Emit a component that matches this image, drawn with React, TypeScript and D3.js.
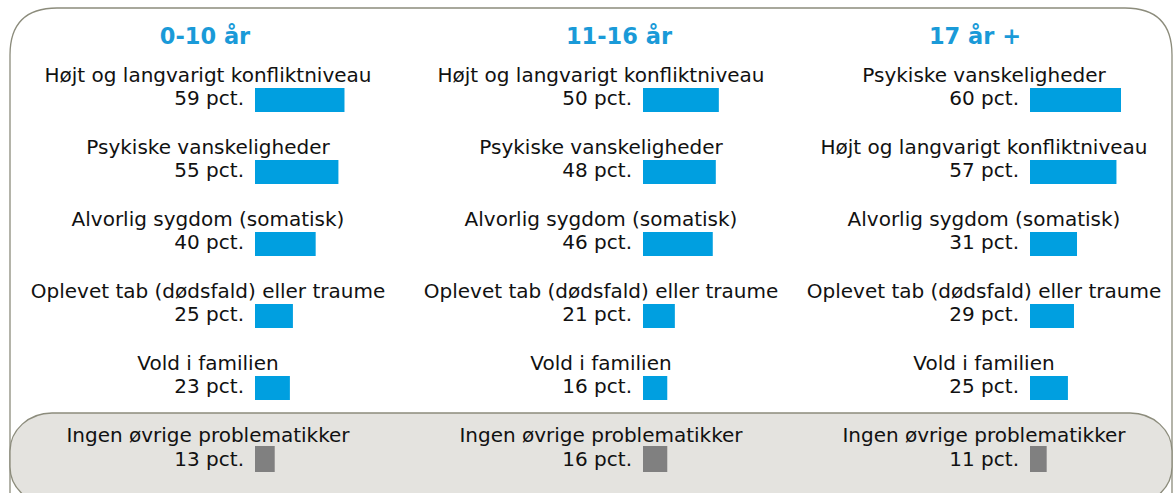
import React from "react";
import * as d3 from "d3";

// age groups (column titles)
const groups = ["0-10 år", "11-16 år", "17 år +"];

// categories per group, in the order they are listed
const cats0 = ["Højt og langvarigt konfliktniveau", "Psykiske vanskeligheder", "Alvorlig sygdom (somatisk)", "Oplevet tab (dødsfald) eller traume", "Vold i familien"];
const vals0 = [59, 55, 40, 25, 23];
const cats1 = ["Højt og langvarigt konfliktniveau", "Psykiske vanskeligheder", "Alvorlig sygdom (somatisk)", "Oplevet tab (dødsfald) eller traume", "Vold i familien"];
const vals1 = [50, 48, 46, 21, 16];
const cats2 = ["Psykiske vanskeligheder", "Højt og langvarigt konfliktniveau", "Alvorlig sygdom (somatisk)", "Oplevet tab (dødsfald) eller traume", "Vold i familien"];
const vals2 = [60, 57, 31, 29, 25];

const noneLabel = "Ingen øvrige problematikker";
const noneVals = [13, 16, 11];

const W = 1173;
const H = 493;
const font = "'DejaVu Sans', Verdana, sans-serif";
const blue = "#009fe0";

export default function App() {
  const cats = [cats0, cats1, cats2];
  const vals = [vals0, vals1, vals2];

  // column anchors: centre of label text and start of bar
  const labelX = [208, 601, 984];
  const barX = [255, 643, 1030];

  const w = d3.scaleLinear().domain([0, 60]).range([0, 91]);
  const rowY = d3.scaleBand<number>().domain(d3.range(5)).range([62, 422]);

  return (
    <svg width={W} height={H} style={{ position: "absolute", left: 0, top: 0 }}>
      {/* outer frame */}
      <path
        d={`M10,${H + 20} L10,55 Q10,8 57,8 L1125,8 Q1172,8 1172,55 L1172,${H + 20}`}
        fill="#fff"
        stroke="#8c8c7c"
        strokeWidth={1.3}
      />
      {/* grey box for "none" */}
      <rect x={10} y={413} width={1162} height={92} rx={42} ry={38} fill="#e4e3df" stroke="#8c8c7c" strokeWidth={1.3} />

      {groups.map((g, gi) => (
        <g key={g}>
          <text x={[205, 619, 975][gi]} y={44} textAnchor="middle" fontFamily={font} fontWeight="bold" fontSize={22.5} fill="#1a9ad8">
            {g}
          </text>
          {cats[gi].map((c, i) => {
            const y = rowY(i)!;
            return (
              <g key={c}>
                <text x={labelX[gi]} y={y + 20} textAnchor="middle" fontFamily={font} fontSize={20} fill="#111">
                  {c}
                </text>
                <text x={barX[gi] - 11} y={y + 43} textAnchor="end" fontFamily={font} fontSize={20} fill="#111">
                  {vals[gi][i]} pct.
                </text>
                <rect x={barX[gi]} y={y + 26} width={w(vals[gi][i])} height={24} fill={blue} />
              </g>
            );
          })}
          <text x={labelX[gi]} y={442} textAnchor="middle" fontFamily={font} fontSize={20} fill="#111">
            {noneLabel}
          </text>
          <text x={barX[gi] - 11} y={466} textAnchor="end" fontFamily={font} fontSize={20} fill="#111">
            {noneVals[gi]} pct.
          </text>
          <rect x={barX[gi]} y={446} width={w(noneVals[gi])} height={26} fill="#808080" />
        </g>
      ))}
    </svg>
  );
}
